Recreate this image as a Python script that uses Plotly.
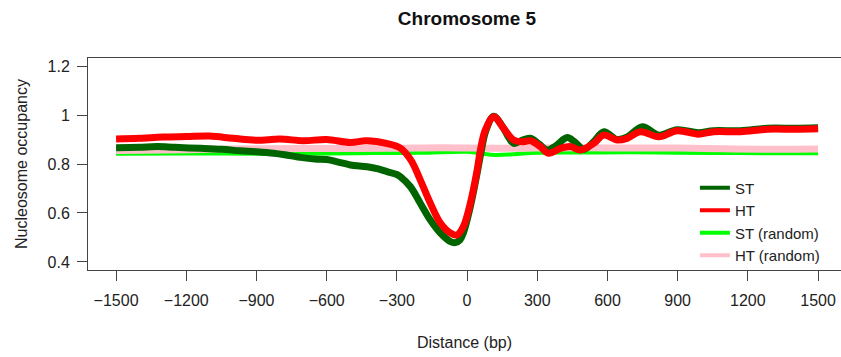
import plotly.graph_objects as go

# ---- data ----
st_x = [-1500, -1400, -1325, -1250, -1140, -1050, -969, -900, -827, -760, -712, -650, -600, -550,
        -499, -427, -380, -342, -300, -285, -242, -200, -157, -114, -71, -50, -30, -16, 14, 43,
        60, 80, 114, 150, 180, 199, 230, 270, 310, 342, 380, 428, 460, 499, 540, 585, 641, 684,
        750, 819, 898, 988, 1053, 1168, 1283, 1400, 1500]
st_y = [0.866, 0.868, 0.871, 0.868, 0.864, 0.860, 0.854, 0.850, 0.844, 0.835, 0.827, 0.820, 0.818, 0.808,
        0.796, 0.789, 0.780, 0.769, 0.757, 0.748, 0.707, 0.640, 0.571, 0.518, 0.483, 0.479, 0.490, 0.518, 0.626, 0.763,
        0.850, 0.935, 0.995, 0.955, 0.905, 0.884, 0.895, 0.905, 0.880, 0.857, 0.875, 0.908, 0.890, 0.860, 0.890, 0.932, 0.900, 0.910,
        0.952, 0.918, 0.940, 0.928, 0.936, 0.936, 0.946, 0.946, 0.948]

ht_x = [-1500, -1400, -1300, -1200, -1100, -1000, -900, -800, -700, -600, -500, -430, -340, -285,
        -240, -200, -157, -114, -71, -43, -16, 14, 43, 57, 78, 114, 156, 199, 242, 271, 313, 348,
        399, 442, 484, 541, 584, 641, 684, 741, 819, 898, 988, 1053, 1168, 1283, 1400, 1500]
ht_y = [0.902, 0.905, 0.910, 0.912, 0.914, 0.905, 0.897, 0.902, 0.895, 0.900, 0.888, 0.895, 0.883, 0.865,
        0.816, 0.735, 0.640, 0.559, 0.518, 0.510, 0.544, 0.640, 0.775, 0.857, 0.939, 0.993, 0.946, 0.898, 0.891, 0.895, 0.871, 0.844,
        0.864, 0.871, 0.857, 0.884, 0.918, 0.898, 0.905, 0.932, 0.911, 0.936, 0.922, 0.932, 0.932, 0.942, 0.942, 0.944]

st_rand_x = [-1500, -1200, -900, -600, -400, -200, 0, 60, 120, 200, 300, 500, 700, 900, 1100, 1300, 1500]
st_rand_y = [0.842, 0.843, 0.842, 0.843, 0.845, 0.846, 0.850, 0.843, 0.837, 0.840, 0.846, 0.847, 0.848, 0.846, 0.845, 0.844, 0.844]

ht_rand_x = [-1500, -1300, -1100, -900, -700, -500, -300, -100, 100, 300, 500, 700, 900, 1100, 1300, 1500]
ht_rand_y = [0.855, 0.857, 0.860, 0.862, 0.863, 0.863, 0.864, 0.866, 0.864, 0.865, 0.866, 0.865, 0.865, 0.862, 0.860, 0.861]

x_ticks = [-1500, -1200, -900, -600, -300, 0, 300, 600, 900, 1200, 1500]
y_ticks = [0.4, 0.6, 0.8, 1.0, 1.2]

series_names = ["ST", "HT", "ST (random)", "HT (random)"]
series_colors = ["#006400", "#FF0000", "#00FF00", "#FFC0CB"]

FONT = "Liberation Sans, Arial, sans-serif"

fig = go.Figure()
# data curves (drawn random first, then ST, then HT on top)
fig.add_trace(go.Scatter(x=st_rand_x, y=st_rand_y, mode="lines", showlegend=False, legendgroup="ST (random)",
                         line=dict(color=series_colors[2], width=4, shape="spline")))
fig.add_trace(go.Scatter(x=ht_rand_x, y=ht_rand_y, mode="lines", showlegend=False, legendgroup="HT (random)",
                         line=dict(color=series_colors[3], width=7, shape="spline")))
fig.add_trace(go.Scatter(x=st_x, y=st_y, mode="lines", showlegend=False, legendgroup="ST",
                         line=dict(color=series_colors[0], width=7, shape="spline")))
fig.add_trace(go.Scatter(x=ht_x, y=ht_y, mode="lines", showlegend=False, legendgroup="HT",
                         line=dict(color=series_colors[1], width=7, shape="spline")))
# legend entries (thinner key lines as in the reference)
for name, color in zip(series_names, series_colors):
    fig.add_trace(go.Scatter(x=[None], y=[None], mode="lines", name=name, legendgroup=name,
                             line=dict(color=color, width=4)))

fig.update_layout(
    width=841, height=357,
    margin=dict(l=88, r=0, t=58, b=87, autoexpand=False),
    paper_bgcolor="white", plot_bgcolor="white",
    font=dict(family=FONT, size=16, color="#222"),
    title=dict(text="<b>Chromosome 5</b>", x=0.5553, xref="container", xanchor="center",
               y=1 - 18 / 357, yref="container", yanchor="middle", automargin=False,
               font=dict(size=19, color="#111")),
    showlegend=True,
    legend=dict(x=0.806, y=0.465, xanchor="left", yanchor="top", bgcolor="rgba(0,0,0,0)",
                font=dict(size=15, color="#222"), traceorder="normal",
                tracegroupgap=0, itemwidth=30),
)
fig.update_xaxes(range=[-1620, 1598], tickvals=x_ticks, ticks="outside", ticklen=10,
                 tickcolor="#444", showline=True, linecolor="#444", linewidth=1, mirror=True,
                 showgrid=False, zeroline=False, automargin=False, ticklabelstandoff=6,
                 title=dict(text="Distance (bp)", standoff=28, font=dict(size=16)))
fig.update_yaxes(range=[0.367, 1.233], tickvals=y_ticks, ticks="outside", ticklen=10,
                 tickcolor="#444", showline=True, linecolor="#444", linewidth=1, mirror=False,
                 showgrid=False, zeroline=False, automargin=False, ticklabelstandoff=4,
                 title=dict(text="Nucleosome occupancy", standoff=15, font=dict(size=16)))

fig.write_html("out.html", config={"displayModeBar": False},
               post_script="document.body.style.margin='0';")
